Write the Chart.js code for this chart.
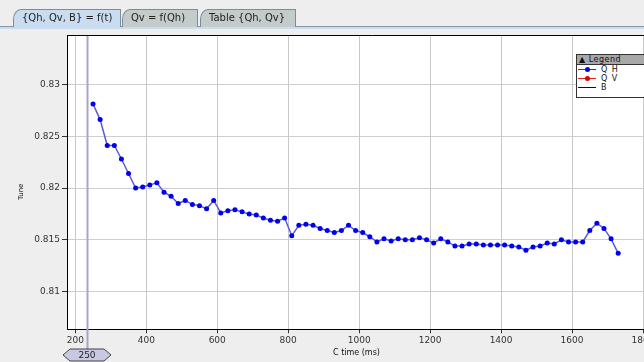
<!DOCTYPE html>
<html><head><meta charset="utf-8">
<script src="https://cdn.jsdelivr.net/npm/chart.js@4.4.0/dist/chart.umd.min.js"></script>
<style>
html,body{margin:0;padding:0;background:#eeeeee;width:644px;height:362px;overflow:hidden;font-family:"DejaVu Sans",sans-serif;}
#wrap{position:relative;width:644px;height:362px;overflow:hidden;}
canvas{position:absolute;left:0;top:0;}
.tab{position:absolute;top:9px;height:18px;box-sizing:border-box;border:1px solid #7d8c99;border-bottom:none;border-top-left-radius:8px 10px;font-size:10px;color:#222;line-height:16px;padding-left:8px;white-space:nowrap;}
#strip{position:absolute;left:0;top:26px;width:644px;height:3px;background:#c9dcf0;border-top:1px solid #8a98a6;box-sizing:border-box;}
#legend{position:absolute;left:576px;top:54px;width:90px;height:44px;border:1px solid #333;background:#fff;box-sizing:border-box;font-size:8px;color:#111;}
#legend .hd{height:9px;background:#a8a8a8;border-bottom:1px solid #333;line-height:9px;font-size:8px;padding-left:2px;letter-spacing:0.5px;}
#legend .it{position:relative;height:9px;line-height:9px;}
#legend .ln{position:absolute;left:1px;top:4px;width:18px;height:1px;}
#legend .dt{position:absolute;left:8px;top:2px;width:5px;height:5px;border-radius:50%;}
#legend .tx{position:absolute;left:24px;top:0;letter-spacing:1px;font-size:8px;}
.ttl{position:absolute;font-size:8px;color:#111;white-space:nowrap;}
</style></head>
<body><div id="wrap">
<canvas id="c" width="720" height="362"></canvas>
<div id="strip"></div>
<div class="tab" style="left:13px;width:108px;background:#c9dcf0;">{Qh, Qv, B} = f(t)</div>
<div class="tab" style="left:122px;width:76px;background:#c3cbcb;">Qv = f(Qh)</div>
<div class="tab" style="left:200px;width:96px;background:#c3cbcb;">Table {Qh, Qv}</div>
<div id="legend">
  <div class="hd">&#9650; Legend</div>
  <div class="it"><div class="ln" style="background:#3333dd"></div><div class="dt" style="background:#0000ee"></div><div class="tx">Q H</div></div>
  <div class="it"><div class="ln" style="background:#dd2222"></div><div class="dt" style="background:#dd0000"></div><div class="tx">Q V</div></div>
  <div class="it"><div class="ln" style="background:#111"></div><div class="tx">B</div></div>
</div>
<div class="ttl" style="left:333px;top:348px;">C time (ms)</div>
<div class="ttl" style="left:9px;top:180px;font-size:7px;transform:rotate(-90deg);transform-origin:14px 6px;">Tune</div>
</div>
<script>
const timesMs = [250,270,290,310,330,350,370,390,410,430,450,470,490,510,530,550,570,590,610,630,650,670,690,710,730,750,770,790,810,830,850,870,890,910,930,950,970,990,1010,1030,1050,1070,1090,1110,1130,1150,1170,1190,1210,1230,1250,1270,1290,1310,1330,1350,1370,1390,1410,1430,1450,1470,1490,1510,1530,1550,1570,1590,1610,1630,1650,1670,1690,1710,1730];
const qhValues = [0.8281,0.8266,0.8241,0.8241,0.8228,0.8214,0.8200,0.8201,0.8203,0.8205,0.8196,0.8192,0.8185,0.8188,0.8184,0.8183,0.8180,0.8188,0.8176,0.8178,0.8179,0.8177,0.8175,0.8174,0.8171,0.8169,0.8168,0.8171,0.8154,0.8164,0.8165,0.8164,0.8161,0.8159,0.8157,0.8159,0.8164,0.8159,0.8157,0.8153,0.8148,0.8151,0.8149,0.8151,0.8150,0.8150,0.8152,0.8150,0.8147,0.8151,0.8148,0.8144,0.8144,0.8146,0.8146,0.8145,0.8145,0.8145,0.8145,0.8144,0.8143,0.8140,0.8143,0.8144,0.8147,0.8146,0.8150,0.8148,0.8148,0.8148,0.8159,0.8166,0.8161,0.8151,0.8137];
const qvValues = [];
const xTicks = [200,400,600,800,1000,1200,1400,1600,1800];
const xTickLabels = ['200','400','600','800','1000','1200','1400','1600','1800'];
const yTicks = [0.81,0.815,0.82,0.825,0.83];
const yTickLabels = ['0.81','0.815','0.82','0.825','0.83'];
const bMarker = 233;
const bLabel = '250';
const xRange = [176.6, 1900];
const yRange = [0.80637, 0.83476];

function labelFor(ticks, labels, v){ const i = ticks.findIndex(t=>Math.abs(t-v)<1e-9); return i>=0 ? labels[i] : ''; }

const framePlugin = {
  id:'frame',
  beforeDraw(chart){
    const {ctx, chartArea:a} = chart;
    ctx.save(); ctx.fillStyle='#ffffff'; ctx.fillRect(a.left,a.top,a.right-a.left,a.bottom-a.top); ctx.restore();
  },
  beforeDatasetsDraw(chart){
    const {ctx, chartArea:a, scales} = chart;
    const x = Math.round(scales.x.getPixelForValue(bMarker))+0.5;
    ctx.save(); ctx.strokeStyle='#a6a6c6'; ctx.lineWidth=2;
    ctx.beginPath(); ctx.moveTo(x,a.top); ctx.lineTo(x,349); ctx.stroke();
    ctx.strokeStyle='#000'; ctx.lineWidth=1;
    ctx.beginPath(); ctx.moveTo(a.left,Math.round(a.top)+0.5); ctx.lineTo(a.right,Math.round(a.top)+0.5); ctx.stroke();
    ctx.restore();
  },
  afterDraw(chart){
    const {ctx, scales} = chart;
    const x = scales.x.getPixelForValue(bMarker);
    const yc = 355;
    ctx.save();
    ctx.beginPath();
    ctx.moveTo(x-24,yc); ctx.lineTo(x-17,yc-6); ctx.lineTo(x+17,yc-6); ctx.lineTo(x+24,yc); ctx.lineTo(x+17,yc+6); ctx.lineTo(x-17,yc+6); ctx.closePath();
    ctx.fillStyle='#c8c8e2'; ctx.fill(); ctx.strokeStyle='#444'; ctx.lineWidth=1; ctx.stroke();
    ctx.fillStyle='#222'; ctx.font='9px "DejaVu Sans"'; ctx.textAlign='center'; ctx.textBaseline='middle';
    ctx.fillText(bLabel, x, yc+1);
    ctx.restore();
  }
};

new Chart(document.getElementById('c'), {
  type:'line',
  data:{
    datasets:[
      {label:'Q H', data: timesMs.map((t,i)=>({x:t,y:qhValues[i]})), borderColor:'#5a5ad8', borderWidth:1.5, pointRadius:2.5, pointBackgroundColor:'#0000ee', pointBorderColor:'#0000ee', pointBorderWidth:0, tension:0},
      {label:'Q V', data: qvValues, borderColor:'#dd2222', pointBackgroundColor:'#dd0000'}
    ]
  },
  options:{
    responsive:false, animation:false, devicePixelRatio:1,
    layout:{padding:{left:0, top:35, right:41.5, bottom:12.7}},
    plugins:{legend:{display:false}, tooltip:{enabled:false}},
    scales:{
      x:{type:'linear', min:xRange[0], max:xRange[1],
        afterFit(s){ s.height = 20; },
        afterBuildTicks(s){ s.ticks = xTicks.map(v=>({value:v})); },
        ticks:{font:{family:'DejaVu Sans', size:9}, color:'#333', padding:2, maxRotation:0, autoSkip:false, callback:(v)=>labelFor(xTicks,xTickLabels,v)},
        grid:{color:'#c8c8c8', lineWidth:1, tickColor:'#333', tickLength:4},
        border:{color:'#000', width:1}
      },
      y:{type:'linear', min:yRange[0], max:yRange[1],
        afterFit(s){ s.width = 67; },
        afterBuildTicks(s){ s.ticks = yTicks.map(v=>({value:v})); },
        ticks:{font:{family:'DejaVu Sans', size:9}, color:'#333', padding:2, callback:(v)=>labelFor(yTicks,yTickLabels,v)},
        grid:{color:'#cfcfcf', lineWidth:1, tickColor:'#333', tickLength:5},
        border:{color:'#000', width:1}
      }
    }
  },
  plugins:[framePlugin]
});
</script>
</body></html>
